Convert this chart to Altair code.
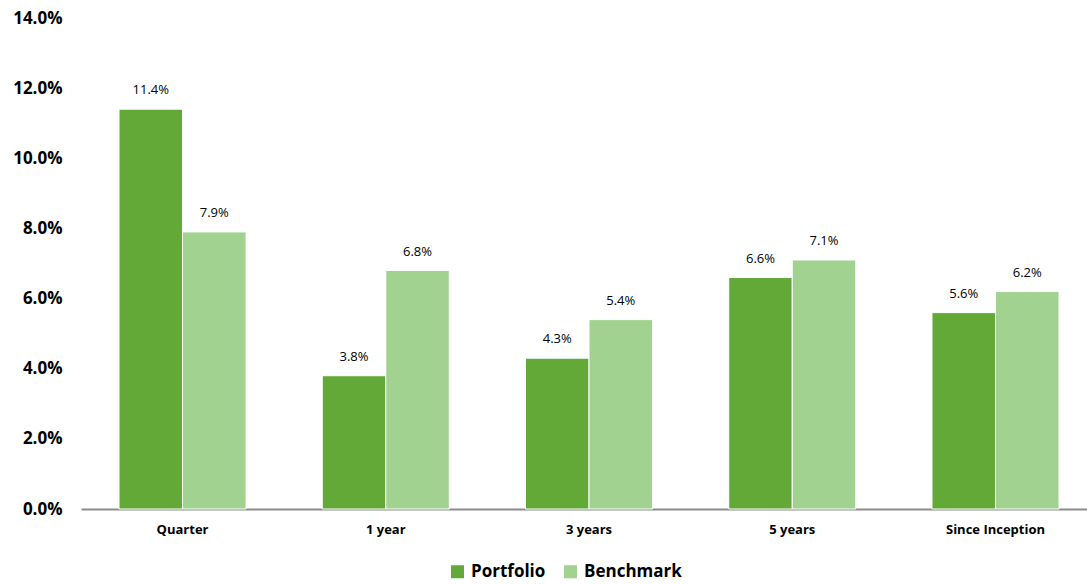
import altair as alt
import pandas as pd

periods = ["Quarter", "1 year", "3 years", "5 years", "Since Inception"]
portfolio = [11.4, 3.8, 4.3, 6.6, 5.6]
benchmark = [7.9, 6.8, 5.4, 7.1, 6.2]
series = ["Portfolio", "Benchmark"]
colors = ["#62A938", "#A2D28F"]

rows = []
for p, a, b in zip(periods, portfolio, benchmark):
    rows.append({"period": p, "series": "Portfolio", "value": a / 100})
    rows.append({"period": p, "series": "Benchmark", "value": b / 100})
df = pd.DataFrame(rows)

FONT = "Open Sans"

x = alt.X("period:N", sort=periods, title=None,
          scale=alt.Scale(paddingInner=0.375, paddingOuter=0.1624, align=0.576),
          axis=alt.Axis(labelAngle=0, labelFont=FONT, labelFontSize=13, labelFontWeight="bold",
                        labelColor="#000", ticks=False, domainColor="#8c8c8c", domainWidth=2,
                        labelPadding=14))
y = alt.Y("value:Q", title=None,
          scale=alt.Scale(domain=[0, 0.14]),
          axis=alt.Axis(format=".1%", values=[0, 0.02, 0.04, 0.06, 0.08, 0.10, 0.12, 0.14],
                        grid=False, domain=False, ticks=False, labelFont=FONT, labelFontSize=17,
                        labelFontWeight="bold", labelColor="#000", labelPadding=19))
color = alt.Color("series:N", sort=series,
                  scale=alt.Scale(domain=series, range=colors),
                  legend=alt.Legend(title=None, orient="none", direction="horizontal",
                                    legendX=368, legendY=545, symbolType="square", symbolSize=170,
                                    symbolStrokeWidth=0, labelFont=FONT, labelFontSize=17,
                                    labelFontWeight="bold", labelColor="#000", columnPadding=16,
                                    labelOffset=5))
xo = alt.XOffset("series:N", sort=series, scale=alt.Scale(domain=series))

base = alt.Chart(df).encode(x=x, y=y, xOffset=xo)
bars = base.mark_bar(stroke="white", strokeWidth=1).encode(color=color)
labels = base.mark_text(dy=-19, font=FONT, fontSize=13, color="#000").encode(
    text=alt.Text("value:Q", format=".1%"))

chart = (bars + labels).properties(
    width=1006, height=491,
    autosize=alt.AutoSizeParams(type="none"),
    padding={"left": 81, "top": 18, "right": 0, "bottom": 75},
).configure_view(stroke=None)

chart.save("out.html", embed_options={"renderer": "svg", "actions": False})
